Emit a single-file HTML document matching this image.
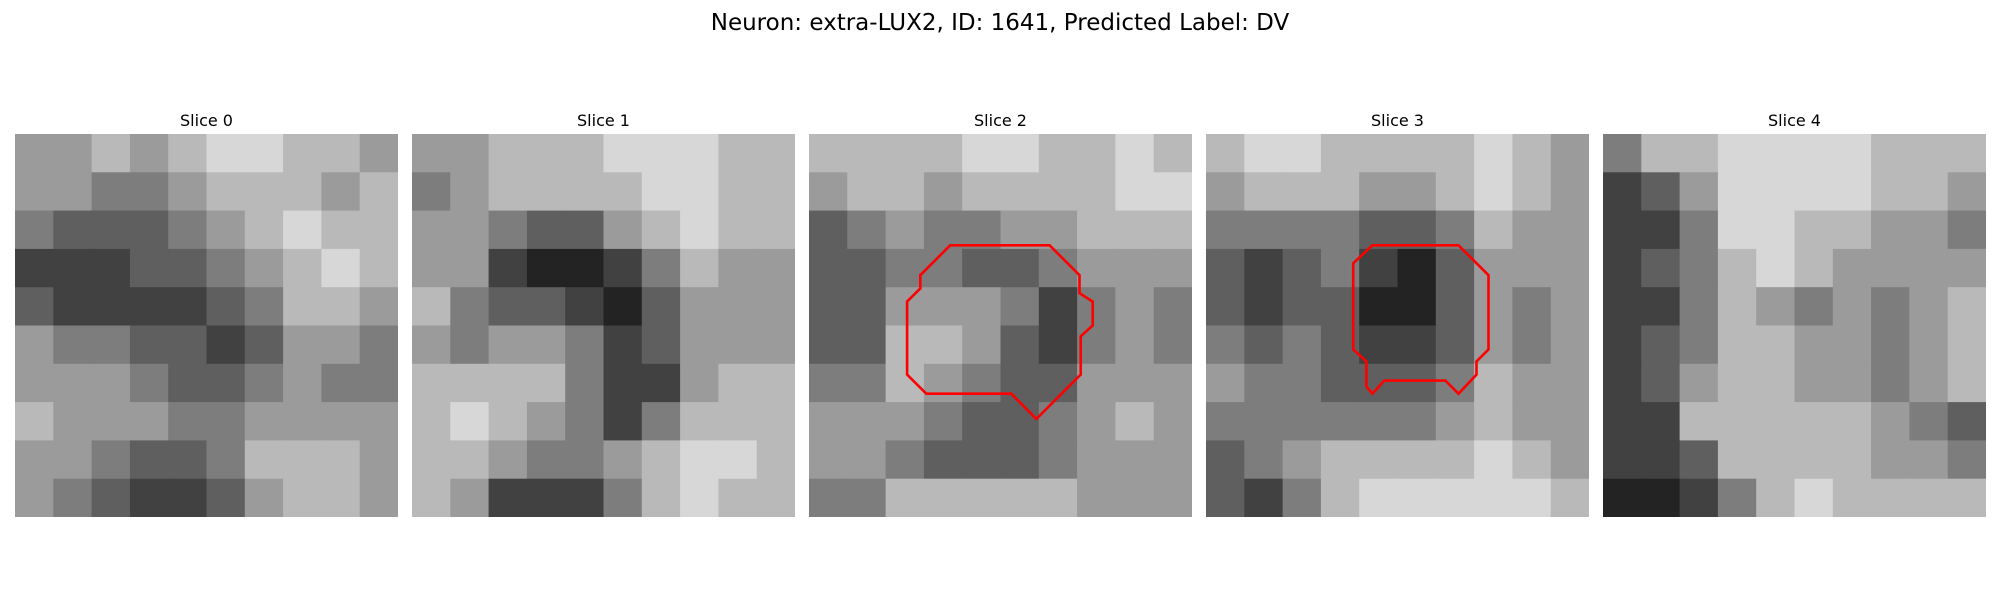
<!DOCTYPE html>
<html><head><meta charset="utf-8">
<style>
html,body{margin:0;padding:0;background:#fff;}
body{width:2000px;height:600px;overflow:hidden;font-family:"DejaVu Sans","Liberation Sans",sans-serif;}
</style></head>
<body>
<svg id="fig" width="2000" height="600" xmlns="http://www.w3.org/2000/svg">
<text x="1000" y="30" text-anchor="middle" font-size="23" fill="#000">Neuron: extra-LUX2, ID: 1641, Predicted Label: DV</text>
</svg>
<script>
const sliceTitles = ["Slice 0","Slice 1","Slice 2","Slice 3","Slice 4"];
const slice0 = [
[5,5,6,5,6,7,7,6,6,5],[5,5,4,4,5,6,6,6,5,6],[4,3,3,3,4,5,6,7,6,6],[2,2,2,3,3,4,5,6,7,6],
[3,2,2,2,2,3,4,6,6,5],[5,4,4,3,3,2,3,5,5,4],[5,5,5,4,3,3,4,5,4,4],[6,5,5,5,4,4,5,5,5,5],
[5,5,4,3,3,4,6,6,6,5],[5,4,3,2,2,3,5,6,6,5]];
const slice1 = [
[5,5,6,6,6,7,7,7,6,6],[4,5,6,6,6,6,7,7,6,6],[5,5,4,3,3,5,6,7,6,6],[5,5,2,1,1,2,4,6,5,5],
[6,4,3,3,2,1,3,5,5,5],[5,4,5,5,4,2,3,5,5,5],[6,6,6,6,4,2,2,5,6,6],[6,7,6,5,4,2,4,6,6,6],
[6,6,5,4,4,5,6,7,7,6],[6,5,2,2,2,4,6,7,6,6]];
const slice2 = [
[6,6,6,6,7,7,6,6,7,6],[5,6,6,5,6,6,6,6,7,7],[3,4,5,4,4,5,5,6,6,6],[3,3,4,4,3,3,4,5,5,5],
[3,3,5,5,5,4,2,4,5,4],[3,3,6,6,5,3,2,4,5,4],[4,4,6,5,4,3,3,5,5,5],[5,5,5,4,3,3,4,5,6,5],
[5,5,4,3,3,3,4,5,5,5],[4,4,6,6,6,6,6,5,5,5]];
const slice3 = [
[6,7,7,6,6,6,6,7,6,5],[5,6,6,6,5,5,6,7,6,5],[4,4,4,4,3,3,4,6,5,5],[3,2,3,4,2,1,3,5,5,5],
[3,2,3,3,1,1,3,5,4,5],[4,3,4,3,2,2,3,5,4,5],[5,4,4,3,3,3,4,6,5,5],[4,4,4,4,4,4,5,6,5,5],
[3,4,5,6,6,6,6,7,6,5],[3,2,4,6,7,7,7,7,7,6]];
const slice4 = [
[4,6,6,7,7,7,7,6,6,6],[2,3,5,7,7,7,7,6,6,5],[2,2,4,7,7,6,6,5,5,4],[2,3,4,6,7,6,5,5,5,5],
[2,2,4,6,5,4,5,4,5,6],[2,3,4,6,6,5,5,4,5,6],[2,3,5,6,6,5,5,4,5,6],[2,2,6,6,6,6,6,5,4,3],
[2,2,3,6,6,6,6,5,5,4],[1,1,2,4,6,7,6,6,6,6]];
const slices = [slice0,slice1,slice2,slice3,slice4];
// contours in image-grid units (32x32 grid)
const contour2X = [11.8,20.1,22.6,22.6,23.7,23.7,22.7,22.7,19.0,16.9,9.8,8.2,8.2,9.3,9.3];
const contour2Y = [9.3,9.3,11.8,13.3,14.0,16.0,16.9,20.1,23.8,21.7,21.7,20.1,14.0,12.9,11.8];
const contour3X = [13.9,21.1,23.6,23.6,22.6,22.6,21.1,20.0,14.9,13.9,13.4,13.4,12.3,12.3];
const contour3Y = [9.3,9.3,11.8,18.0,19.0,20.1,21.7,20.6,20.6,21.7,21.1,19.0,18.0,10.8];
const contours = [null,null,[contour2X,contour2Y],[contour3X,contour3Y],null];

const NS="http://www.w3.org/2000/svg";
const svg=document.getElementById('fig');
const panelLeft=i=>15+i*397, panelTop=134, panelSize=383, grid=32;
const gray=v=>{const g=Math.max(0,Math.min(255,Math.round(5+v*30)));return `rgb(${g},${g},${g})`;};
slices.forEach((data,i)=>{
  const g=document.createElementNS(NS,'g');
  
  
  const x0=panelLeft(i);
  const rows=data.length, cols=data[0].length;
  const cw=panelSize/cols, ch=panelSize/rows;
  data.forEach((row,r)=>row.forEach((v,c)=>{
    const rect=document.createElementNS(NS,'rect');
    
    
    rect.setAttribute('x',(x0+c*cw).toFixed(2));
    rect.setAttribute('y',(panelTop+r*ch).toFixed(2));
    rect.setAttribute('width',(c===cols-1?cw:cw+0.6).toFixed(2));
    rect.setAttribute('height',(r===rows-1?ch:ch+0.6).toFixed(2));
    rect.setAttribute('fill',gray(v));
    g.appendChild(rect);
  }));
  const t=document.createElementNS(NS,'text');
  
  
  t.setAttribute('x',x0+panelSize/2);
  t.setAttribute('y',126);
  t.setAttribute('text-anchor','middle');
  t.setAttribute('font-size','16');
  t.textContent=sliceTitles[i];
  g.appendChild(t);
  const ct=contours[i];
  if(ct){
    const s=panelSize/grid;
    const pts=ct[0].map((x,k)=>(x0+x*s).toFixed(1)+','+(panelTop+ct[1][k]*s).toFixed(1)).join(' ');
    const p=document.createElementNS(NS,'polygon');
    
    
    p.setAttribute('points',pts);
    p.setAttribute('fill','none');
    p.setAttribute('stroke','#ff0000');
    p.setAttribute('stroke-width','2.6');
    g.appendChild(p);
  }
  svg.appendChild(g);
});
</script>
</body></html>
